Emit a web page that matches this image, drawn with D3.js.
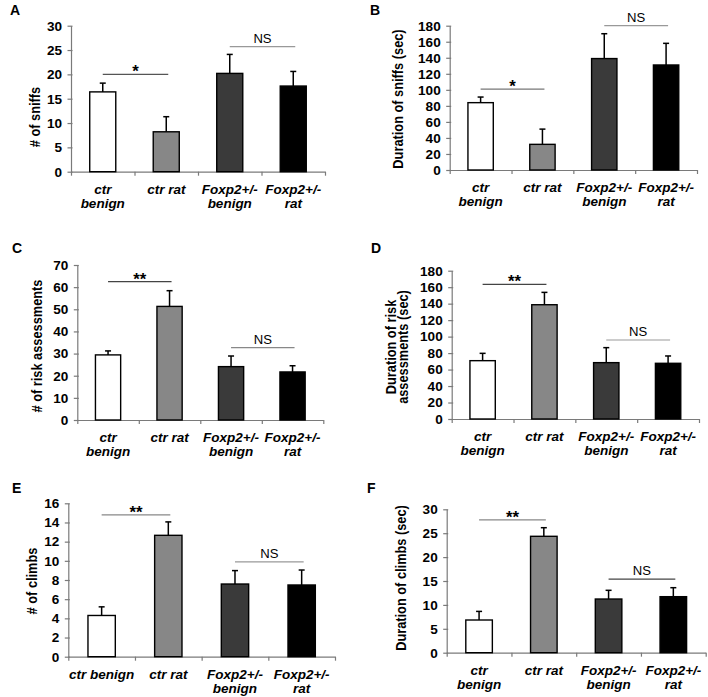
<!DOCTYPE html>
<html><head><meta charset="utf-8">
<script src="https://cdn.jsdelivr.net/npm/d3@7/dist/d3.min.js"></script>
<style>
html,body{margin:0;padding:0;background:#fff;}
svg{display:block;}
text{font-family:Arial,"Liberation Sans",sans-serif;}
</style></head>
<body>
<script>
// ---------- data ----------
const categories = ["ctr benign", "ctr rat", "Foxp2+/- benign", "Foxp2+/- rat"];
const xLabelLines = [["ctr", "benign"], ["ctr rat"], ["Foxp2+/-", "benign"], ["Foxp2+/-", "rat"]];
const xLabelLinesE = [["ctr benign"], ["ctr rat"], ["Foxp2+/-", "benign"], ["Foxp2+/-", "rat"]];
const barColors = ["#ffffff", "#878787", "#3a3a3a", "#000000"];

const sniffCount = [16.4, 8.2, 20.2, 17.6];
const sniffCountErr = [1.8, 3.1, 3.9, 3.0];
const sniffDur = [84, 32, 139, 131];
const sniffDurErr = [7, 19, 31, 27];
const riskCount = [29.4, 51.3, 24.1, 21.7];
const riskCountErr = [1.8, 7.1, 4.8, 2.8];
const riskDur = [70.8, 138.7, 68.4, 67.6];
const riskDurErr = [8.9, 15.0, 18.2, 8.9];
const climbCount = [4.3, 12.66, 7.58, 7.48];
const climbCountErr = [0.9, 1.4, 1.4, 1.56];
const climbDur = [6.84, 24.35, 11.23, 11.72];
const climbDurErr = [1.8, 1.8, 1.82, 1.88];

const ticksA = [0, 5, 10, 15, 20, 25, 30];
const ticksB = [0, 20, 40, 60, 80, 100, 120, 140, 160, 180];
const ticksC = [0, 10, 20, 30, 40, 50, 60, 70];
const ticksD = [0, 20, 40, 60, 80, 100, 120, 140, 160, 180];
const ticksE = [0, 2, 4, 6, 8, 10, 12, 14, 16];
const ticksF = [0, 5, 10, 15, 20, 25, 30];

// significance annotations: [label, fromBar, toBar, level]
const sigA = [["*", 0, 1, 20], ["NS", 2, 3, 25.7]];
const sigB = [["*", 0, 1, 101], ["NS", 2, 3, 180]];
const sigC = [["**", 0, 1, 62.5], ["NS", 2, 3, 32.7]];
const sigD = [["**", 0, 1, 163.5], ["NS", 2, 3, 95.9]];
const sigE = [["**", 0, 1, 14.8], ["NS", 2, 3, 9.9]];
const sigF = [["**", 0, 1, 27.8], ["NS", 2, 3, 15.4]];

const yTitleA = ["# of sniffs"];
const yTitleB = ["Duration of sniffs (sec)"];
const yTitleC = ["# of risk assessments"];
const yTitleD = ["Duration of risk", "assessments (sec)"];
const yTitleE = ["# of climbs"];
const yTitleF = ["Duration of climbs (sec)"];

// ---------- layout ----------
const W = 708, H = 697;
const panels = [
  {letter:"A", lx:10, ly:14.5, x0:71, x1:325, yTop:25.7, yBot:171.7, ticks:ticksA, vals:sniffCount, errs:sniffCountErr, sig:sigA, sigCol:["#555","#999"], title:yTitleA, tx:[39.5], ty:117, xl:xLabelLines},
  {letter:"B", lx:370, ly:14.5, x0:449.7, x1:697, yTop:25.7, yBot:170, ticks:ticksB, vals:sniffDur, errs:sniffDurErr, sig:sigB, sigCol:["#777","#999"], title:yTitleB, tx:[403], ty:99, xl:xLabelLines},
  {letter:"C", lx:12, ly:253, x0:77.3, x1:323.3, yTop:265, yBot:420, ticks:ticksC, vals:riskCount, errs:riskCountErr, sig:sigC, sigCol:["#444","#888"], title:yTitleC, tx:[41.5], ty:346, xl:xLabelLines},
  {letter:"D", lx:371, ly:253, x0:451.7, x1:699, yTop:270.7, yBot:419, ticks:ticksD, vals:riskDur, errs:riskDurErr, sig:sigD, sigCol:["#444","#999"], title:yTitleD, tx:[395.5, 408], ty:347, xl:xLabelLines},
  {letter:"E", lx:12, ly:493, x0:68.3, x1:335, yTop:503.3, yBot:656.7, ticks:ticksE, vals:climbCount, errs:climbCountErr, sig:sigE, sigCol:["#888","#999"], title:yTitleE, tx:[36.5], ty:581, xl:xLabelLinesE},
  {letter:"F", lx:367, ly:493, x0:446.7, x1:705.7, yTop:509.3, yBot:652.7, ticks:ticksF, vals:climbDur, errs:climbDurErr, sig:sigF, sigCol:["#888","#444"], title:yTitleF, tx:[406], ty:578, xl:xLabelLines}
];

const svg = d3.select("body").append("svg").attr("width", W).attr("height", H);

function stretchedText(parent, x, y, str, opts) {
  const g = parent.append("g").attr("transform", `translate(${x},${y}) scale(${opts.sx || 1},1)` + (opts.rot ? " rotate(-90)" : ""));
  return g.append("text").text(str)
    .attr("text-anchor", opts.anchor || "middle")
    .attr("font-size", opts.size)
    .attr("font-weight", opts.weight || "normal")
    .attr("font-style", opts.style || "normal")
    .attr("fill", opts.fill || "#000");
}

panels.forEach(p => {
  const g = svg.append("g");
  const yMax = p.ticks[p.ticks.length - 1];
  const y = d3.scaleLinear().domain([0, yMax]).range([p.yBot, p.yTop]);
  const x = d3.scaleBand().domain(categories).range([p.x0, p.x1]).paddingInner(0.59).paddingOuter(0.295);
  const xEdge = d3.scaleLinear().domain([0, categories.length]).range([p.x0, p.x1]);

  // panel letter
  stretchedText(g, p.lx, p.ly, p.letter, {size: 14, weight: "bold", anchor: "start", sx: 1.0});

  // y axis
  const yAxis = g.append("g").attr("transform", `translate(${p.x0},0)`)
    .call(d3.axisLeft(y).tickValues(p.ticks).tickSize(3.5).tickSizeOuter(0).tickFormat(d3.format("d")));
  yAxis.select(".domain").attr("stroke", "#7a7a7a").attr("stroke-width", 1.2);
  yAxis.selectAll(".tick line").attr("stroke", "#7a7a7a").attr("stroke-width", 1.2).attr("x1", 1.5);
  yAxis.selectAll(".tick text")
    .attr("x", 0).attr("dy", "0.36em")
    .attr("font-size", 12).attr("font-weight", "bold").attr("fill", "#000")
    .attr("font-family", 'Arial,"Liberation Sans",sans-serif')
    .attr("transform", `translate(-9,0) scale(1.13,1)`);

  // x axis
  const xAxis = g.append("g").attr("transform", `translate(0,${p.yBot})`)
    .call(d3.axisBottom(xEdge).tickValues(d3.range(0, categories.length + 1)).tickSize(4).tickSizeOuter(0).tickFormat(""));
  xAxis.select(".domain").attr("stroke", "#7a7a7a").attr("stroke-width", 1.2);
  xAxis.selectAll(".tick line").attr("stroke", "#7a7a7a").attr("stroke-width", 1.2);

  // bars
  g.selectAll("rect.bar").data(p.vals).join("rect").attr("class", "bar")
    .attr("x", (d, i) => x(categories[i]))
    .attr("width", x.bandwidth())
    .attr("y", d => y(d))
    .attr("height", d => p.yBot - y(d))
    .attr("fill", (d, i) => barColors[i])
    .attr("stroke", "#000").attr("stroke-width", 1.4);

  // error bars (upper only)
  const cap = 3;
  p.vals.forEach((v, i) => {
    const cx = x(categories[i]) + x.bandwidth() / 2;
    g.append("line").attr("x1", cx).attr("x2", cx).attr("y1", y(v)).attr("y2", y(v + p.errs[i]))
      .attr("stroke", "#000").attr("stroke-width", 1.5);
    g.append("line").attr("x1", cx - cap).attr("x2", cx + cap).attr("y1", y(v + p.errs[i])).attr("y2", y(v + p.errs[i]))
      .attr("stroke", "#000").attr("stroke-width", 1.5);
  });

  // significance
  p.sig.forEach((s, k) => {
    const xa = x(categories[s[1]]) + x.bandwidth() / 2;
    const xb = x(categories[s[2]]) + x.bandwidth() / 2 + 2;
    const ly = y(s[3]);
    g.append("line").attr("x1", xa).attr("x2", xb).attr("y1", ly).attr("y2", ly)
      .attr("stroke", p.sigCol[k]).attr("stroke-width", 1.2);
    if (s[0] === "NS") {
      stretchedText(g, (xa + xb) / 2, ly - 4, s[0], {size: 12.5, sx: 1.05});
    } else {
      stretchedText(g, (xa + xb) / 2, ly + 3, s[0], {size: 16, weight: "bold", sx: 1.05});
    }
  });

  // x labels
  p.xl.forEach((lines, i) => {
    const cx = x(categories[i]) + x.bandwidth() / 2;
    lines.forEach((ln, j) => {
      stretchedText(g, cx, p.yBot + 22 + j * 14, ln, {size: 13.5, weight: "bold", style: "italic", sx: 1.0});
    });
  });

  // y title
  p.title.forEach((t, j) => {
    stretchedText(g, p.tx[j], p.ty, t, {size: 12.8, weight: "bold", sx: 1.2, rot: true});
  });
});
</script>
</body></html>
